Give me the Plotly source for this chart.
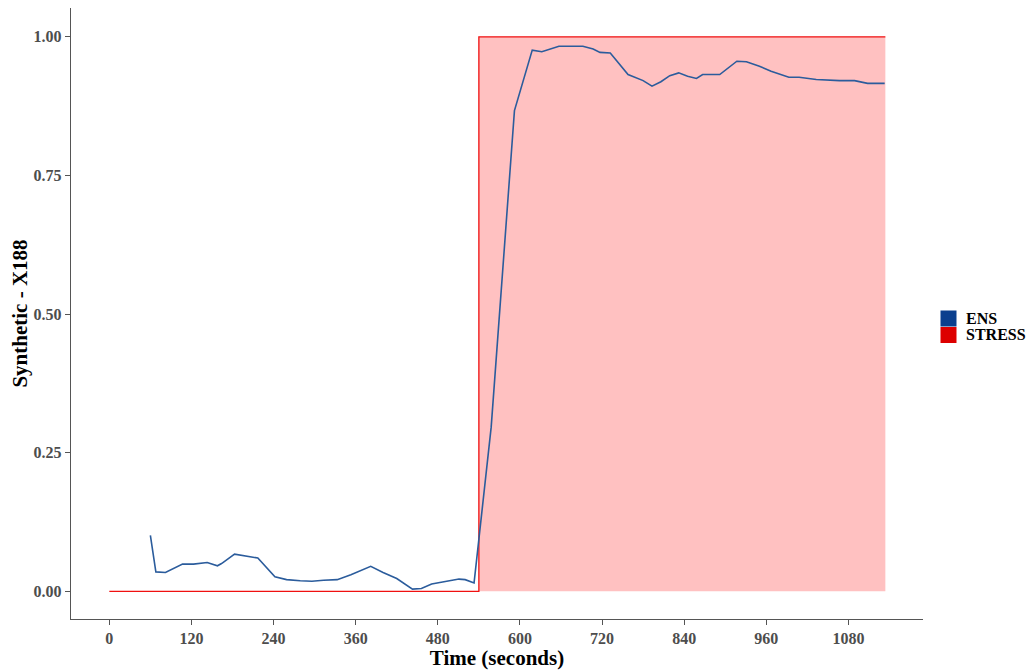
import plotly.graph_objects as go

# ENS response over time
ens_time = [60, 68, 82, 107, 123, 143, 158, 164, 183, 198, 217, 242, 259, 279,
            296, 313, 333, 353, 382, 400, 420, 443, 456, 471, 488, 511, 520, 533,
            558, 592, 618, 632, 657, 692, 707, 717, 732, 758, 780, 793, 806, 819,
            832, 845, 858, 867, 892, 917, 931, 950, 967, 993, 1008, 1033, 1067,
            1089, 1108, 1133]
ens_value = [0.101, 0.035, 0.034, 0.049, 0.049, 0.052, 0.046, 0.050, 0.067, 0.064,
             0.060, 0.026, 0.021, 0.019, 0.018, 0.020, 0.021, 0.030, 0.045, 0.034,
             0.023, 0.004, 0.005, 0.013, 0.017, 0.022, 0.021, 0.015, 0.296, 0.867,
             0.976, 0.973, 0.983, 0.983, 0.978, 0.972, 0.971, 0.932, 0.921, 0.911,
             0.919, 0.930, 0.935, 0.929, 0.925, 0.932, 0.932, 0.956, 0.955, 0.947,
             0.938, 0.927, 0.927, 0.923, 0.921, 0.921, 0.916, 0.916]

# Stress condition (step function)
stress_time = [0, 540, 1134]
stress_value = [0, 1, 1]

x_ticks = [0, 120, 240, 360, 480, 600, 720, 840, 960, 1080]
y_ticks = [0.0, 0.25, 0.5, 0.75, 1.0]
y_tick_labels = ["0.00", "0.25", "0.50", "0.75", "1.00"]

legend_names = ["ENS", "STRESS"]
legend_colors = ["#0B3F8E", "#DD0000"]

ENS_LINE = "#2B5C9C"
STRESS_LINE = "#F01010"
STRESS_FILL = "rgba(255,0,0,0.245)"
AXIS_GREY = "#555555"
TICK_TEXT = "#4D4D4D"
FONT = "Liberation Serif"

W, H = 1031, 670
ML, MR, MT, MB = 71, 108, 8, 51
PW, PH = W - ML - MR, H - MT - MB


def px_x(p):
    return (p - ML) / PW


def px_y(p):
    return (H - MB - p) / PH


fig = go.Figure()

fig.add_trace(go.Scatter(
    x=stress_time, y=stress_value, mode="lines",
    line=dict(color=STRESS_LINE, width=1.3, shape="hv"),
    fill="tozeroy", fillcolor=STRESS_FILL,
    name="STRESS", showlegend=False, hoverinfo="skip",
))

fig.add_trace(go.Scatter(
    x=ens_time, y=ens_value, mode="lines",
    line=dict(color=ENS_LINE, width=1.6),
    name="ENS", showlegend=False,
))

# Legend: filled key squares with bold labels to the right of the panel
key_top = 310.5
key_size = 16
for i, (name, col) in enumerate(zip(legend_names, legend_colors)):
    top = key_top + i * (key_size + 0.5)
    fig.add_shape(
        type="rect", xref="paper", yref="paper",
        x0=px_x(940.5), x1=px_x(940.5 + key_size),
        y0=px_y(top + key_size), y1=px_y(top),
        fillcolor=col, line=dict(width=0),
    )
    fig.add_annotation(
        xref="paper", yref="paper", x=px_x(964), y=px_y(top + key_size / 2),
        text=name, showarrow=False, xanchor="left", yanchor="middle",
        font=dict(family=FONT, size=16, color="black", weight="bold"),
    )

fig.update_layout(
    width=W, height=H,
    margin=dict(l=ML, r=MR, t=MT, b=MB),
    paper_bgcolor="white", plot_bgcolor="white",
    font=dict(family=FONT),
    showlegend=False,
)

fig.update_xaxes(
    range=[-56, 1189], tickvals=x_ticks,
    showgrid=False, zeroline=False,
    showline=True, linecolor=AXIS_GREY, linewidth=1.4,
    ticks="outside", ticklen=5, tickcolor=AXIS_GREY, tickwidth=1.2,
    tickfont=dict(family=FONT, size=16, color=TICK_TEXT, weight="bold"),
    title=dict(text="Time (seconds)", standoff=10,
               font=dict(family=FONT, size=21, color="black", weight="bold")),
    automargin=False,
)

fig.update_yaxes(
    range=[-0.05, 1.052], tickvals=y_ticks, ticktext=y_tick_labels,
    showgrid=False, zeroline=False,
    showline=True, linecolor=AXIS_GREY, linewidth=1.4,
    ticks="outside", ticklen=5, tickcolor=AXIS_GREY, tickwidth=1.2,
    tickfont=dict(family=FONT, size=16, color=TICK_TEXT, weight="bold"),
    title=dict(text="Synthetic - X188", standoff=0,
               font=dict(family=FONT, size=21, color="black", weight="bold")),
    automargin=False,
)

fig.write_html("out.html")
